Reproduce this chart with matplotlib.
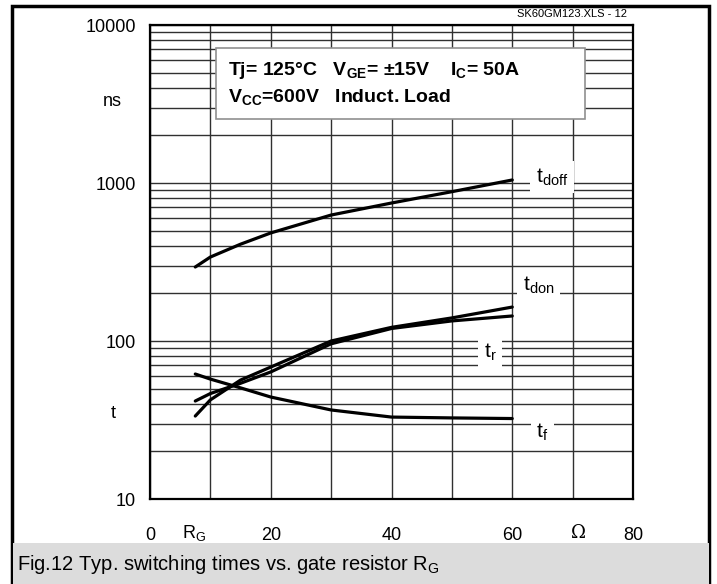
import matplotlib
matplotlib.use("Agg")
import matplotlib.pyplot as plt
from matplotlib.patches import Rectangle
from matplotlib.ticker import LogLocator, NullFormatter, FixedLocator

plt.rcParams['font.family'] = ['Liberation Sans', 'DejaVu Sans']
plt.rcParams['mathtext.fontset'] = 'custom'
plt.rcParams['mathtext.rm'] = 'Liberation Sans'

# gate resistor R_G [Ohm]
rg = [7.5, 10, 15, 20, 30, 40, 50, 60]
# switching times [ns]
t_doff = [294, 340, 410, 483, 627, 747, 881, 1045]
t_don = [33.5, 42.4, 56.6, 68.4, 100, 122, 140, 164]
t_r = [41.7, 46.5, 54.0, 63.7, 96, 120, 134, 144]
t_f = [61.8, 57.4, 50.5, 44.2, 36.6, 33.0, 32.6, 32.3]

x_ticks = [0, 20, 40, 60, 80]
y_ticks = [10, 100, 1000, 10000]
curve_labels = ['t$_\\mathregular{doff}$', 't$_\\mathregular{don}$', 't$_\\mathregular{r}$', 't$_\\mathregular{f}$']
caption = 'Fig.12 Typ. switching times vs. gate resistor R$_\\mathregular{G}$'

W, H = 717, 584
fig = plt.figure(figsize=(W / 100, H / 100), dpi=100)

# outer frame and caption band
fig.patches.append(Rectangle((11.5 / W, 0), 697 / W, (H - 5.5) / H, transform=fig.transFigure,
                             fill=False, edgecolor='black', linewidth=2.5, zorder=0))
fig.patches.append(Rectangle((13 / W, 0), 696 / W, 41 / H, transform=fig.transFigure,
                             facecolor='#dcdcdc', edgecolor='none', zorder=1))
fig.text(17 / W, 20 / H, caption, fontsize=14.5, va='center', ha='left')
fig.text(627 / W, (H - 14) / H, 'SK60GM123.XLS - 12', fontsize=8, ha='right', va='center')

ax = fig.add_axes([150 / W, (H - 499) / H, 483 / W, 474 / H])
ax.set_yscale('log')
ax.set_xlim(0, 80)
ax.set_ylim(10, 10000)
ax.set_axisbelow(True)

ax.xaxis.set_major_locator(FixedLocator(x_ticks))
ax.xaxis.set_minor_locator(FixedLocator([10, 30, 50, 70]))
ax.yaxis.set_major_locator(FixedLocator(y_ticks))
ax.yaxis.set_minor_locator(LogLocator(base=10, subs=range(2, 10)))
ax.yaxis.set_minor_formatter(NullFormatter())
ax.set_yticklabels([str(v) for v in y_ticks])
ax.tick_params(which='both', length=0, labelsize=13)
ax.tick_params(axis='x', pad=20)
ax.tick_params(axis='y', pad=10)
ax.grid(True, which='both', color='#303030', linewidth=1.0)
for s in ax.spines.values():
    s.set_linewidth(1.6)

for ys in [t_doff, t_don, t_r, t_f]:
    ax.plot(rg, ys, color='black', linewidth=2.3, solid_capstyle='round')

# condition box
ax.add_patch(Rectangle((0.137, 0.802), 0.763, 0.149, transform=ax.transAxes,
                       facecolor='white', edgecolor='#909090', linewidth=1.2, zorder=1.5))
ax.text(0.162, 0.905, 'Tj= 125\u00b0C   V$_\\mathregular{GE}$= \u00b115V    I$_\\mathregular{C}$= 50A',
        transform=ax.transAxes, fontsize=14, fontweight='bold', va='center', zorder=3)
ax.text(0.162, 0.847, 'V$_\\mathregular{CC}$=600V   Induct. Load',
        transform=ax.transAxes, fontsize=14, fontweight='bold', va='center', zorder=3)

lab_pos = [(66.6, 1091), (64.4, 226), (56.3, 85), (65.0, 26.5)]
for (lx, ly), txt in zip(lab_pos, curve_labels):
    ax.text(lx, ly, txt, fontsize=15, ha='center', va='center',
            bbox=dict(facecolor='white', edgecolor='none', pad=4))

# axis captions
ax.text(5.3, -0.072, 'R$_\\mathregular{G}$', transform=ax.get_xaxis_transform(),
        fontsize=13, ha='left', va='center')
ax.text(71, -0.072, '\u03a9', transform=ax.get_xaxis_transform(),
        fontsize=13, ha='center', va='center', family=['DejaVu Serif'])
ax.text(-0.078, 3300, 'ns', transform=ax.get_yaxis_transform(), fontsize=13, ha='center', va='center')
ax.text(-0.076, 35, 't', transform=ax.get_yaxis_transform(), fontsize=13, ha='center', va='center')

fig.savefig('out.png', dpi=100)
